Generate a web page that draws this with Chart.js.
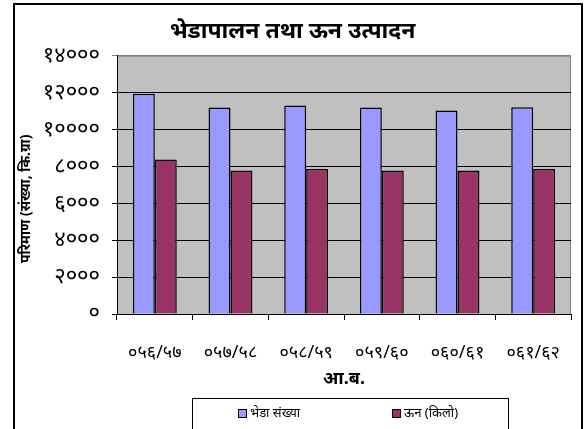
<!DOCTYPE html>
<html>
<head>
<meta charset="utf-8">
<script src="https://cdn.jsdelivr.net/npm/chart.js@4.4.1/dist/chart.umd.min.js"></script>
<style>
  html, body { margin: 0; padding: 0; background: #fff; }
  #wrap { position: relative; width: 587px; height: 429px; overflow: hidden; }
  #frame { position: absolute; left: 13px; top: 3px; width: 566px; height: 440px; border: 2px solid #000; pointer-events: none; }
  canvas { position: absolute; left: 0; top: 0; }
</style>
</head>
<body>
<div id="wrap">
  <canvas id="c" width="587" height="429"></canvas>
  <div id="frame"></div>
</div>
<script>
const chartTitle = 'भेडापालन तथा ऊन उत्पादन';
const xTitle = 'आ.ब.';
const yTitle = 'परिमाण (संख्या, कि.ग्रा)';
const categories = ['०५६/५७', '०५७/५८', '०५८/५९', '०५९/६०', '०६०/६१', '०६१/६२'];
const sheepLabel = 'भेडा संख्या';
const woolLabel = 'ऊन (किलो)';
const sheepCount = [11930, 11190, 11290, 11190, 11020, 11200];
const woolKg = [8370, 7780, 7850, 7780, 7780, 7850];
const yTickValues = [0, 2000, 4000, 6000, 8000, 10000, 12000, 14000];
const yTickLabels = ['०', '२०००', '४०००', '६०००', '८०००', '१००००', '१२०००', '१४०००'];

const FONT = "'Noto Sans', 'DejaVu Sans', sans-serif";

const plotBg = {
  id: 'plotBg',
  beforeDraw(chart) {
    const a = chart.chartArea, ctx = chart.ctx;
    ctx.save();
    ctx.fillStyle = '#C0C0C0';
    ctx.fillRect(a.left, a.top, a.right - a.left, a.bottom - a.top);
    ctx.strokeStyle = '#808080';
    ctx.lineWidth = 1;
    ctx.strokeRect(a.left + 0.5, a.top + 0.5, a.right - a.left - 1, a.bottom - a.top);
    ctx.restore();
  }
};

const boxLegend = {
  id: 'boxLegend',
  afterDraw(chart) {
    const a = chart.chartArea, ctx = chart.ctx;
    const cx = (a.left + a.right) / 2 + 6;
    const top = a.bottom + 84;
    ctx.save();
    ctx.strokeStyle = '#000';
    ctx.lineWidth = 1;
    ctx.fillStyle = '#fff';
    ctx.fillRect(cx - 158, top, 316, 60);
    ctx.strokeRect(cx - 158 + 0.5, top + 0.5, 316, 60);
    const offs = [-112, 42];
    ctx.font = '13px ' + FONT;
    ctx.textBaseline = 'middle';
    chart.data.datasets.forEach((ds, i) => {
      const x = cx + offs[i];
      const y = top + 15;
      ctx.fillStyle = ds.backgroundColor;
      ctx.fillRect(x, y - 4, 8, 8);
      ctx.strokeStyle = '#000';
      ctx.strokeRect(x + 0.5, y - 3.5, 8, 8);
      ctx.fillStyle = '#000';
      ctx.fillText(ds.label, x + 12, y);
    });
    ctx.restore();
  }
};

new Chart(document.getElementById('c'), {
  type: 'bar',
  data: {
    labels: categories,
    datasets: [
      { label: sheepLabel, data: sheepCount, backgroundColor: '#9999FF', borderColor: '#000', borderWidth: 1.5 },
      { label: woolLabel, data: woolKg, backgroundColor: '#993366', borderColor: '#000', borderWidth: 1.5 }
    ]
  },
  options: {
    responsive: false,
    animation: false,
    devicePixelRatio: 1,
    layout: { padding: { left: 14, right: 16, top: 14, bottom: 36 } },
    datasets: { bar: { categoryPercentage: 0.58, barPercentage: 1.0 } },
    plugins: {
      legend: { display: false },
      tooltip: { enabled: false },
      title: {
        display: true,
        text: chartTitle,
        color: '#000',
        font: { family: FONT, size: 23, weight: 'bold' },
        padding: { top: 4, bottom: 10 }
      }
    },
    scales: {
      x: {
        offset: true,
        border: { color: '#000', width: 1 },
        grid: { offset: true, drawOnChartArea: false, color: '#000', tickLength: 6 },
        ticks: { color: '#000', font: { family: FONT, size: 18 }, padding: 22, maxRotation: 0 },
        title: { display: true, text: xTitle, color: '#000', font: { family: FONT, size: 18, weight: 'bold' }, padding: { top: 4, bottom: 3 } },
        afterFit(scale) { scale.height = 79; }
      },
      y: {
        min: 0,
        max: 14000,
        border: { color: '#000', width: 1 },
        grid: {
          color: ctx => (ctx.tick && ctx.tick.value === 14000 ? '#808080' : '#000'),
          tickLength: 5
        },
        afterBuildTicks(scale) { scale.ticks = yTickValues.map(v => ({ value: v })); },
        ticks: {
          color: '#000',
          font: { family: FONT, size: 22 },
          padding: 12,
          callback: (v) => yTickLabels[yTickValues.indexOf(v)]
        },
        title: { display: true, text: yTitle + '\u2003\u2003', color: '#000', font: { family: FONT, size: 14, weight: 'bold' }, padding: { top: 4, bottom: 4 } },
        afterFit(scale) { scale.width = 103; }
      }
    }
  },
  plugins: [plotBg, boxLegend]
});
</script>
</body>
</html>
